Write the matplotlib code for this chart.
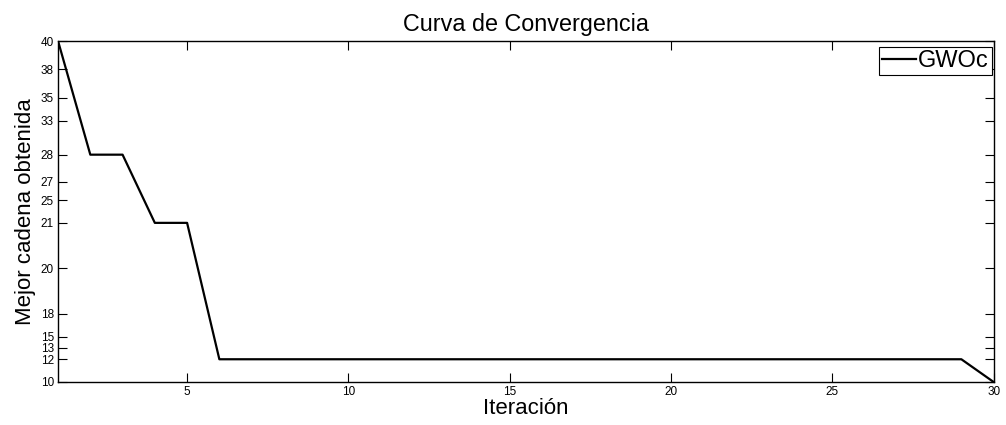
import numpy as np
import matplotlib
matplotlib.use('Agg')
import matplotlib.pyplot as plt

# convergence data (best value per iteration)
iteraciones = list(range(1, 31))
mejor = [40, 28, 28, 21, 21] + [12] * 23 + [12, 10]

# y tick labels and where they sit on the (irregular) axis
ytick_vals = [10, 12, 13, 15, 18, 20, 21, 25, 27, 28, 33, 35, 38, 40]
ytick_pos = [10, 12, 13, 14, 16, 20, 24, 26, 27.6, 30, 33, 35, 37.5, 40]

def fwd(v):
    return np.interp(v, ytick_vals, ytick_pos)

def inv(p):
    return np.interp(p, ytick_pos, ytick_vals)

plt.rcParams['font.family'] = ['Liberation Sans', 'DejaVu Sans']

fig = plt.figure(figsize=(10.06, 4.25), dpi=100)
ax = fig.add_axes([0.0577, 0.1012, 0.930, 0.8023])

ax.plot(iteraciones, mejor, color='black', linewidth=1.6, label='GWOc')

ax.set_yscale('function', functions=(fwd, inv))
ax.set_xlim(1, 30)
ax.set_ylim(10, 40)
ax.set_xticks([5, 10, 15, 20, 25, 30])
ax.set_yticks(ytick_vals)
ax.set_yticklabels([str(v) for v in ytick_vals])
ax.minorticks_off()

ax.tick_params(direction='in', length=6.5, width=0.8, labelsize=8.5,
               top=True, right=True, pad=3)
for s in ax.spines.values():
    s.set_linewidth(1.0)

ax.set_title('Curva de Convergencia', fontsize=16.8, pad=7)
ax.set_xlabel('Iteración', fontsize=16, labelpad=0)
ax.set_ylabel('Mejor cadena obtenida', fontsize=16, labelpad=3)

leg = ax.legend(loc='upper right', bbox_to_anchor=(0.998, 0.982),
                fontsize=17, fancybox=False, framealpha=1,
                edgecolor='black', handlelength=1.45, handletextpad=0.1,
                borderpad=0.12, borderaxespad=0)
leg.get_frame().set_linewidth(0.8)

fig.savefig('out.png', dpi=100)
